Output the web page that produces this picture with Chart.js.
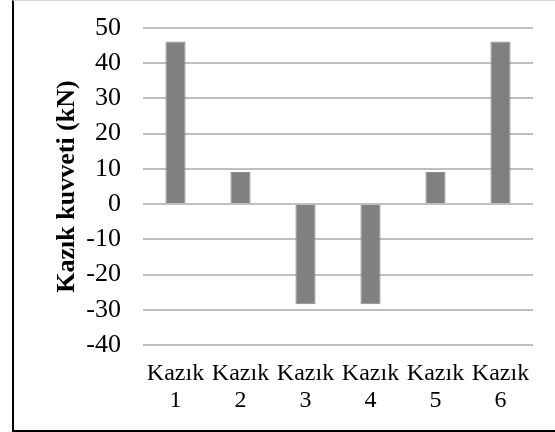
<!DOCTYPE html>
<html>
    <head>
        <title>Kazık kuvveti</title>
        <script src="https://cdn.jsdelivr.net/npm/chart.js@4.4.0/dist/chart.umd.min.js"></script>
        <style>
            body { margin: 0; background: #ffffff; }
            #wrap { position: relative; width: 555px; height: 432px; }
            #barChart { display: block; }
            #frame {
                position: absolute; left: 12px; top: 0px; width: 560px; height: 429px;
                border-left: 2px solid #000000; border-bottom: 2px solid #000000;
                border-top: 1px solid #d9d9d9; pointer-events: none;
            }
        </style>
    </head>
    <body>
        <div id="wrap">
            <canvas id="barChart" width="555" height="432"></canvas>
            <div id="frame"></div>
        </div>

        <script>
            //Chart data
            const categories = [["Kazık", "1"], ["Kazık", "2"], ["Kazık", "3"], ["Kazık", "4"], ["Kazık", "5"], ["Kazık", "6"]];
            const forces = [46.2, 9.1, -28.4, -28.4, 9.1, 46.2];
            const yMin = -40;
            const yMax = 50;
            const yStep = 10;
            const yTitle = "Kazık kuvveti (kN)";

            const config = {
                type: 'bar',
                data: {
                    labels: categories,
                    datasets: [{
                        label: "Kazık kuvveti",
                        data: forces,
                        backgroundColor: '#808080',
                        borderColor: '#8c8c8c',
                        borderWidth: 1,
                        categoryPercentage: 1,
                        barPercentage: 0.31
                    }]
                },
                options: {
                    responsive: false,
                    animation: false,
                    layout: { padding: { top: 28, right: 22, left: 0, bottom: 0 } },
                    plugins: {
                        legend: { display: false },
                        tooltip: { enabled: false }
                    },
                    scales: {
                        x: {
                            grid: { display: false, drawTicks: false },
                            border: { display: false },
                            ticks: {
                                color: '#000000',
                                padding: 16,
                                maxRotation: 0,
                                autoSkip: false,
                                font: { family: 'Liberation Serif', size: 24, lineHeight: 1.1 }
                            },
                            afterFit: function (scale) { scale.height = 87; }
                        },
                        y: {
                            min: yMin,
                            max: yMax,
                            grid: { color: '#bfbfbf', lineWidth: 2, drawTicks: false },
                            border: { display: false },
                            ticks: {
                                stepSize: yStep,
                                autoSkip: false,
                                color: '#000000',
                                padding: 22,
                                font: { family: 'Liberation Serif', size: 26 }
                            },
                            title: {
                                display: true,
                                text: yTitle,
                                color: '#000000',
                                padding: { top: 52, bottom: 0 },
                                font: { family: 'Liberation Serif', size: 26, weight: 'bold', lineHeight: 1.2 }
                            },
                            //Fixed width, and drop the extra padding that the tick padding adds on top
                            afterFit: function (scale) {
                                scale.width = 143;
                                scale.paddingTop = 0;
                                scale.paddingBottom = 0;
                            }
                        }
                    }
                }
            };

            new Chart(document.getElementById("barChart"), config);
        </script>
    </body>
</html>
